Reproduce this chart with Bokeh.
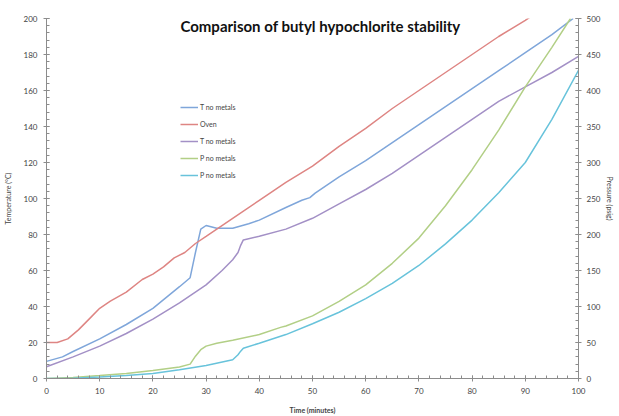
from bokeh.plotting import figure
from bokeh.models import (LinearAxis, Range1d, SingleIntervalTicker, Legend, LegendItem, Label)
from bokeh.embed import file_html
from bokeh.resources import INLINE

# Temperature series (left axis, °C)
t_blue = [0, 3, 5, 10, 15, 20, 25, 27, 28, 29, 30, 32, 35, 38, 40, 45, 48, 49.5, 50.5, 55, 60, 65, 70, 75, 80, 85, 90, 95, 99]
T_blue = [9.5, 12, 15, 22, 30, 39, 51, 56, 70, 83, 85, 83.5, 83.5, 86, 88, 95, 99, 100.5, 103, 112, 121, 131, 141, 151, 161, 171, 181, 191, 200]

t_oven = [0, 2, 4, 6, 8, 10, 12, 15, 18, 20, 22, 24, 26, 28, 30, 35, 40, 45, 50, 55, 60, 65, 70, 75, 80, 85, 90, 91]
T_oven = [20, 20, 22, 27, 33, 39, 43, 48, 55, 58, 62, 67, 70, 75, 79, 89, 99, 109, 118, 129, 139, 150, 160, 170, 180, 190, 199, 201]

t_purple = [0, 5, 10, 15, 20, 25, 30, 33, 35, 36, 36.5, 37, 40, 45, 50, 55, 60, 65, 70, 75, 80, 85, 90, 95, 100]
T_purple = [6.5, 12, 18, 25, 33, 42, 52, 60, 66, 70, 74, 77, 79, 83, 89, 97, 105, 114, 124, 134, 144, 154, 162, 170, 179]

# Pressure series (right axis, psig)
t_green = [0, 5, 10, 15, 20, 25, 27, 28, 29, 30, 32, 35, 40, 44, 45, 50, 55, 60, 65, 70, 75, 80, 85, 90, 95, 98.5]
P_green = [0, 1.5, 4, 7, 11, 16, 20, 31, 40, 45, 49, 53, 61, 71, 73, 87, 107, 130, 160, 195, 240, 290, 345, 405, 460, 500]

t_cyan = [0, 5, 10, 15, 20, 25, 30, 35, 36, 36.5, 37, 40, 45, 50, 55, 60, 65, 70, 75, 80, 85, 90, 95, 100]
P_cyan = [0, 0.5, 2, 4, 7, 12, 18, 26, 33, 38, 42, 49, 61, 76, 92, 111, 132, 157, 187, 220, 258, 300, 360, 428]

labels = ["T no metals", "Oven", "T no metals", "P no metals", "P no metals"]
colors = ["#7FA6DA", "#DE8583", "#A390C6", "#B2CF86", "#68C3DB"]

FONT = "Lato"
TXT = "#444444"
AX = "#8c8c8c"

p = figure(width=619, height=416, output_backend="svg", toolbar_location=None,
           x_range=Range1d(0, 100), y_range=Range1d(0, 200),
           min_border_left=46, min_border_right=41, min_border_top=18, min_border_bottom=37)
p.extra_y_ranges = {"p": Range1d(0, 500)}
p.outline_line_color = None
p.xgrid.visible = False
p.ygrid.visible = False
p.background_fill_color = "white"

def style(ax, interval, label, bold=False, standoff=8, lstand=6):
    ax.ticker = SingleIntervalTicker(interval=interval, num_minor_ticks=5)
    ax.axis_line_color = AX
    ax.major_tick_line_color = AX
    ax.minor_tick_line_color = AX
    ax.major_tick_in = 3
    ax.major_tick_out = 3
    ax.minor_tick_in = 3
    ax.minor_tick_out = 0
    ax.major_label_text_font = FONT
    ax.major_label_text_font_size = "8px"
    ax.major_label_text_color = TXT
    ax.major_label_standoff = lstand
    ax.axis_label = label
    ax.axis_label_text_font = FONT
    ax.axis_label_text_font_size = "7px"
    ax.axis_label_text_font_style = "bold" if bold else "normal"
    ax.axis_label_text_color = TXT
    ax.axis_label_standoff = standoff

style(p.xaxis[0], 10, "Time (minutes)", bold=True, standoff=9)
style(p.yaxis[0], 20, "Temperature (°C)", standoff=9)
ry = LinearAxis(y_range_name="p")
style(ry, 50, "Pressure (psig)", standoff=3, lstand=5)
p.add_layout(ry, "right")

r1 = p.line(t_blue, T_blue, line_color=colors[0], line_width=1.5)
r2 = p.line(t_oven, T_oven, line_color=colors[1], line_width=1.5)
r3 = p.line(t_purple, T_purple, line_color=colors[2], line_width=1.5)
r4 = p.line(t_green, P_green, line_color=colors[3], line_width=1.5, y_range_name="p")
r5 = p.line(t_cyan, P_cyan, line_color=colors[4], line_width=1.5, y_range_name="p")

legend = Legend(items=[LegendItem(label=l, renderers=[r]) for l, r in zip(labels, [r1, r2, r3, r4, r5])],
                location=(134, 198), padding=0, margin=0, spacing=7,
                glyph_width=18, glyph_height=10, label_height=10, label_standoff=2,
                label_text_font=FONT, label_text_font_size="7px", label_text_color=TXT,
                border_line_color=None, background_fill_alpha=0)
p.add_layout(legend)

title = Label(x=51.5, y=196, text="Comparison of butyl hypochlorite stability",
              text_font=FONT, text_font_style="bold", text_font_size="15px",
              text_color="#111111", text_align="center", text_baseline="middle")
p.add_layout(title)

open("out.html", "w").write(file_html(p, INLINE))
